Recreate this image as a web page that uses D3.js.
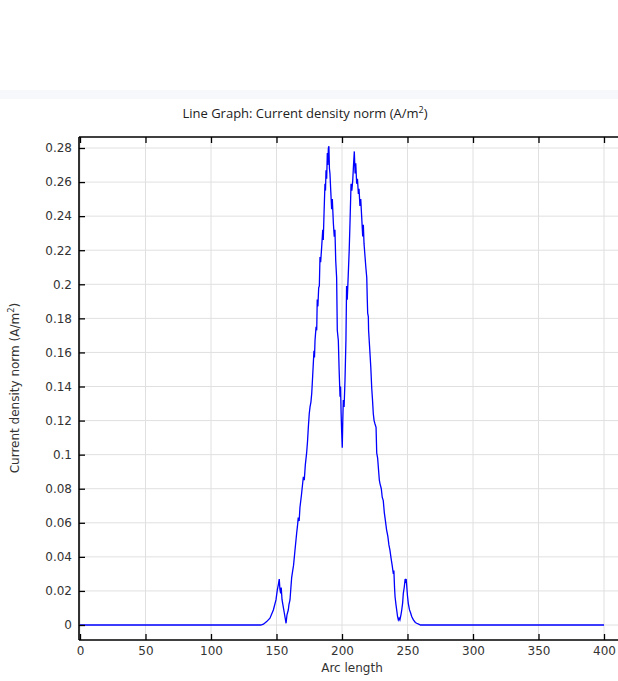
<!DOCTYPE html>
<html><head><meta charset="utf-8">
<script src="https://cdn.jsdelivr.net/npm/d3@7"></script>
<style>html,body{margin:0;padding:0;background:#fff;overflow:hidden}</style>
</head><body>
<svg id="c" width="618" height="681"></svg>
<script>
const xTicks = [0,50,100,150,200,250,300,350,400];
const yTicks = [0,0.02,0.04,0.06,0.08,0.1,0.12,0.14,0.16,0.18,0.2,0.22,0.24,0.26,0.28];
const yTickLabels = ["0","0.02","0.04","0.06","0.08","0.1","0.12","0.14","0.16","0.18","0.2","0.22","0.24","0.26","0.28"];
const arcLength = [0,100,138,140,142.5,145,147.6,149.6,150.6,151.5,152.1,152.6,153.2,153.6,154.2,154.7,156,157.3,158,159,159.5,160.3,161,161.6,162.2,163,164,165.4,166,166.6,167.3,167.9,169,170.5,171.2,172,173,173.7,174.3,175,175.6,176.3,176.9,177.6,178.2,178.6,179,179.4,180.2,180.7,181.1,181.6,182.2,182.7,183.2,183.7,184.5,185.3,185.7,186.3,187,187.4,187.8,188.3,188.8,189.2,189.6,190,190.4,190.8,191.4,192.1,192.6,193.4,194.1,194.6,195.2,195.9,196.4,197.2,197.8,198.5,198.9,199.3,199.7,200.2,200.6,201,201.6,202.3,203,203.5,204,204.8,205.5,206.1,206.9,207.5,208.2,208.8,209.4,210,210.5,211.2,211.8,212.5,213,213.7,214.3,215,215.8,216.3,216.8,217.6,218.2,218.9,219.3,219.6,220.1,220.3,221.4,222,222.7,223.3,223.9,224.5,225.2,226,226.5,227.2,228,228.5,229,230,230.7,231.5,232.3,233,234,235,235.8,236.6,237.5,238.3,239.2,239.6,240.1,240.5,241.2,241.8,242.4,243,243.6,244.2,245,245.6,246.3,246.8,247.5,248.2,248.6,249,249.5,250,250.6,251.5,252.4,253.2,254.5,256,257,258.5,260,300,400];
const currentDensity = [0,0,0,0.0005,0.002,0.004,0.0088,0.0147,0.0205,0.024,0.027,0.021,0.0186,0.022,0.015,0.0127,0.0069,0.001,0.006,0.0088,0.012,0.0147,0.022,0.028,0.031,0.035,0.043,0.054,0.058,0.063,0.061,0.069,0.076,0.087,0.085,0.094,0.101,0.108,0.116,0.124,0.128,0.131,0.136,0.146,0.155,0.161,0.157,0.167,0.175,0.173,0.191,0.187,0.198,0.199,0.216,0.213,0.222,0.232,0.226,0.242,0.259,0.255,0.267,0.262,0.277,0.27,0.28,0.281,0.268,0.265,0.255,0.244,0.25,0.236,0.228,0.232,0.214,0.204,0.173,0.167,0.15,0.134,0.14,0.125,0.1145,0.104,0.12,0.132,0.128,0.144,0.167,0.199,0.191,0.206,0.22,0.236,0.259,0.255,0.261,0.27,0.278,0.265,0.271,0.259,0.262,0.253,0.256,0.246,0.25,0.24,0.228,0.235,0.224,0.216,0.21,0.204,0.191,0.183,0.181,0.173,0.159,0.151,0.139,0.132,0.124,0.12,0.118,0.116,0.101,0.098,0.09,0.085,0.083,0.08,0.075,0.073,0.066,0.062,0.056,0.052,0.047,0.044,0.039,0.035,0.03,0.032,0.022,0.0166,0.012,0.0085,0.005,0.003,0.004,0.003,0.006,0.0088,0.013,0.0186,0.022,0.027,0.026,0.027,0.022,0.017,0.0127,0.009,0.007,0.005,0.003,0.0015,0.001,0.0005,0,0,0];
const titleText = "Line Graph: Current density norm (A/m";
const xLabel = "Arc length";
const yLabelText = "Current density norm (A/m";

const svg = d3.select("#c");
const L = 79, T = 137, R = 650, B = 640;
const x = d3.scaleLinear().domain([0,400]).range([80,604]);
const y = d3.scaleLinear().domain([0,0.28]).range([625,148]);

svg.append("rect").attr("x",0).attr("y",90).attr("width",618).attr("height",9).attr("fill","#f7f8fb");

const tt = svg.append("text").attr("x",305).attr("y",118).attr("text-anchor","middle")
  .attr("font-family","Open Sans").attr("font-size",13).attr("fill","#222").text(titleText);
tt.append("tspan").attr("dy",-5).attr("font-size",9).text("2");
tt.append("tspan").attr("dy",5).text(")");

const g = svg.append("g");
g.selectAll("line.vg").data(xTicks).join("line").attr("class","vg").attr("x1",d=>x(d)).attr("x2",d=>x(d))
  .attr("y1",T).attr("y2",B).attr("stroke","#e0e0e0").attr("stroke-width",1);
g.selectAll("line.hg").data(yTicks).join("line").attr("class","hg").attr("x1",L).attr("x2",R)
  .attr("y1",d=>y(d)).attr("y2",d=>y(d)).attr("stroke","#e0e0e0").attr("stroke-width",1);

const line = d3.line().x((d,i)=>x(arcLength[i])).y(d=>y(d));
svg.append("path").datum(currentDensity).attr("d",line).attr("fill","none")
  .attr("stroke","#0000ff").attr("stroke-width",1.3);

const axB = svg.append("g").attr("transform",`translate(0,${B})`)
  .call(d3.axisBottom(x).tickValues(xTicks).tickSizeInner(-6).tickSizeOuter(0).tickPadding(6.5));
const axT = svg.append("g").attr("transform",`translate(0,${T})`)
  .call(d3.axisTop(x).tickValues(xTicks).tickSizeInner(-6).tickSizeOuter(0).tickFormat(""));
const axL = svg.append("g").attr("transform",`translate(${L},0)`)
  .call(d3.axisLeft(y).tickValues(yTicks).tickSizeInner(-6).tickSizeOuter(0).tickPadding(7)
    .tickFormat((d,i)=>yTickLabels[i]));
[axB,axT,axL].forEach(a=>{
  a.select(".domain").remove();
  a.selectAll(".tick line").attr("stroke","#000").attr("stroke-width",1.3);
  a.selectAll("text").attr("font-family","DejaVu Sans").attr("font-size",12).attr("fill","#333");
});
svg.append("line").attr("x1",L).attr("x2",R).attr("y1",T).attr("y2",T).attr("stroke","#000").attr("stroke-width",1.6);
svg.append("line").attr("x1",L).attr("x2",R).attr("y1",B).attr("y2",B).attr("stroke","#000").attr("stroke-width",1.6);
svg.append("line").attr("x1",L).attr("x2",L).attr("y1",T).attr("y2",B).attr("stroke","#000").attr("stroke-width",1.6);

svg.append("text").attr("x",352).attr("y",672).attr("text-anchor","middle")
  .attr("font-family","DejaVu Sans").attr("font-size",12).attr("fill","#333").text(xLabel);
const yl = svg.append("text").attr("transform","translate(19,388) rotate(-90)").attr("text-anchor","middle")
  .attr("font-family","DejaVu Sans").attr("font-size",12).attr("fill","#333").text(yLabelText);
yl.append("tspan").attr("dy",-5).attr("font-size",8.5).text("2");
yl.append("tspan").attr("dy",5).text(")");
</script>
</body></html>
